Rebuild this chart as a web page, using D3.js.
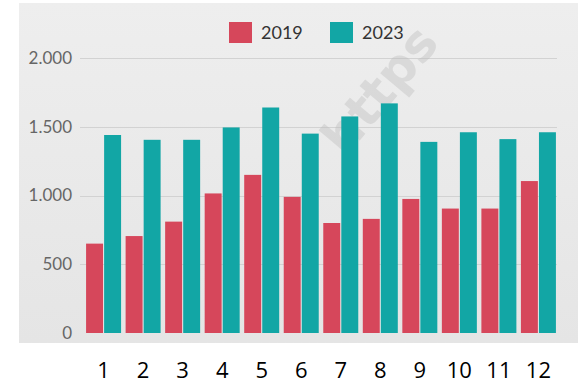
<!DOCTYPE html>
<html>
<head>
<meta charset="utf-8">
<script src="https://cdn.jsdelivr.net/npm/d3@7"></script>
<style>
  body { margin: 0; background: #fff; }
  svg { display: block; }
</style>
</head>
<body>
<div id="vis"></div>
<script>
var months = ["1", "2", "3", "4", "5", "6", "7", "8", "9", "10", "11", "12"];
var series = ["2019", "2023"];
var values2019 = [650, 705, 810, 1015, 1150, 990, 800, 830, 975, 905, 905, 1105];
var values2023 = [1440, 1405, 1405, 1495, 1640, 1450, 1575, 1670, 1390, 1460, 1410, 1460];
var yTicks = [0, 500, 1000, 1500, 2000];
var colors = { "2019": "#d6475b", "2023": "#12a6a5" };

var width = 578, height = 389;

var rows = months.map(function(m, i) {
  return { month: m, "2019": values2019[i], "2023": values2023[i] };
});

var svg = d3.select("#vis").append("svg")
    .attr("width", width)
    .attr("height", height);

// grey photo-like panel
var grad = svg.append("defs").append("linearGradient")
    .attr("id", "bg")
    .attr("x1", 0).attr("y1", 0).attr("x2", 0).attr("y2", 1);
grad.append("stop").attr("offset", "0%").attr("stop-color", "#eeeeee");
grad.append("stop").attr("offset", "100%").attr("stop-color", "#e5e5e5");

svg.append("rect")
    .attr("x", 19).attr("y", 3)
    .attr("width", width - 19).attr("height", 340)
    .attr("fill", "url(#bg)");

var x0 = d3.scaleBand()
    .domain(months)
    .range([85, 557])
    .paddingInner(0.06)
    .paddingOuter(0);

var x1 = d3.scaleBand()
    .domain(series)
    .range([0, x0.bandwidth()])
    .padding(0.06);

var y = d3.scaleLinear()
    .domain([0, 2000])
    .range([333, 58]);

var locale = d3.formatLocale({ decimal: ",", thousands: ".", grouping: [3], currency: ["", ""] });
var fmt = locale.format(",");

// gridlines
svg.selectAll(".grid")
  .data(yTicks.filter(function(d) { return d > 0; }))
  .enter().append("line")
    .attr("class", "grid")
    .attr("x1", 80).attr("x2", 557)
    .attr("y1", function(d) { return Math.round(y(d)) + 0.5; })
    .attr("y2", function(d) { return Math.round(y(d)) + 0.5; })
    .attr("stroke", "#d2d2d2")
    .attr("stroke-width", 1);

// y labels
svg.selectAll(".ylab")
  .data(yTicks)
  .enter().append("text")
    .attr("class", "ylab")
    .attr("x", 72)
    .attr("y", function(d) { return y(d); })
    .attr("dy", "0.35em")
    .attr("text-anchor", "end")
    .attr("font-family", "Lato, 'Open Sans', sans-serif")
    .attr("font-size", 17)
    .attr("fill", "#666")
    .text(function(d) { return fmt(d); });

// watermark
svg.append("text")
    .attr("transform", "translate(345,158) rotate(-50)")
    .attr("font-family", "'DejaVu Sans', sans-serif")
    .attr("font-weight", "bold")
    .attr("font-size", 50)
    .attr("fill", "#bdbdbd")
    .attr("opacity", 0.4)
    .text("https");

// bars
var groups = svg.selectAll(".group")
  .data(rows)
  .enter().append("g")
    .attr("class", "group")
    .attr("transform", function(d) { return "translate(" + x0(d.month) + ",0)"; });

groups.selectAll("rect")
  .data(function(d) { return series.map(function(s) { return { key: s, value: d[s] }; }); })
  .enter().append("rect")
    .attr("x", function(d) { return x1(d.key); })
    .attr("y", function(d) { return y(d.value); })
    .attr("width", x1.bandwidth())
    .attr("height", function(d) { return y(0) - y(d.value); })
    .attr("fill", function(d) { return colors[d.key]; });

// legend
var legendX = d3.scaleOrdinal().domain(series).range([229, 330]);
var legend = svg.selectAll(".legend")
  .data(series)
  .enter().append("g")
    .attr("class", "legend")
    .attr("transform", function(d) { return "translate(" + legendX(d) + ",22)"; });

legend.append("rect")
    .attr("width", 23).attr("height", 21)
    .attr("fill", function(d) { return colors[d]; });

legend.append("text")
    .attr("x", 32).attr("y", 17)
    .attr("font-family", "Lato, 'Open Sans', sans-serif")
    .attr("font-size", 18)
    .attr("fill", "#333")
    .text(function(d) { return d; });

// month labels under the panel
svg.selectAll(".xlab")
  .data(months)
  .enter().append("text")
    .attr("class", "xlab")
    .attr("x", function(d) { return x0(d) + x0.bandwidth() / 2; })
    .attr("y", 378)
    .attr("text-anchor", "middle")
    .attr("font-family", "'Open Sans', sans-serif")
    .attr("font-size", 22)
    .attr("fill", "#000")
    .text(function(d) { return d; });
</script>
</body>
</html>
